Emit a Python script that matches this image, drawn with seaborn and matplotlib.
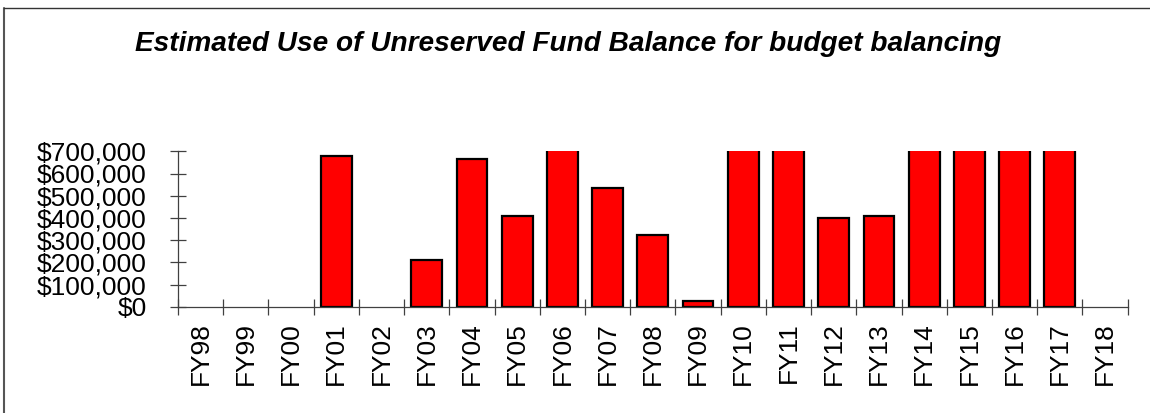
import matplotlib
matplotlib.use("Agg")
import matplotlib.pyplot as plt
import matplotlib.ticker as mticker
from matplotlib.lines import Line2D
import numpy as np
import pandas as pd
import seaborn as sns

# Fiscal years and estimated use of unreserved fund balance (dollars)
years = ["FY98", "FY99", "FY00", "FY01", "FY02", "FY03", "FY04", "FY05", "FY06",
         "FY07", "FY08", "FY09", "FY10", "FY11", "FY12", "FY13", "FY14", "FY15",
         "FY16", "FY17", "FY18"]
amounts = [0, 0, 0, 678000, 0, 211000, 664000, 408000, 760000,
           533000, 322000, 27000, 850000, 900000, 401000, 410000, 950000, 1000000,
           880000, 820000, 0]
y_ticks = [0, 100000, 200000, 300000, 400000, 500000, 600000, 700000]
title = "Estimated Use of Unreserved Fund Balance for budget balancing"

df = pd.DataFrame({"year": years, "amount": amounts})

sns.set_theme(style="white")
plt.rcParams["font.family"] = ["Liberation Sans", "DejaVu Sans"]

W, H = 1150, 413
fig = plt.figure(figsize=(W / 100, H / 100), dpi=100)
ax = fig.add_axes([178 / W, 1 - 306.7 / H, (1127.7 - 178) / W, (306.7 - 151.3) / H])

sns.barplot(data=df, x="year", y="amount", order=years, color="#FF0000",
            saturation=1, width=0.68, edgecolor="black", linewidth=1.6, ax=ax)

# hide empty years so no outline is drawn on the baseline
for p in ax.patches:
    if p.get_height() == 0:
        p.set_visible(False)

ax.set_ylim(0, 700000)
ax.set_xlim(-0.5, len(years) - 0.5)
ax.set_xlabel("")
ax.set_ylabel("")

ax.set_yticks(y_ticks)
ax.yaxis.set_major_formatter(mticker.FuncFormatter(lambda v, _: f"${v:,.0f}"))

# labels centred on bars, tick marks on category boundaries
ax.set_xticks(range(len(years)))
ax.set_xticklabels(years, rotation=90)
ax.set_xticks(np.arange(-0.5, len(years)), minor=True)
ax.tick_params(axis="x", which="major", length=0, pad=11, labelsize=19, colors="black")
ax.tick_params(axis="x", which="minor", direction="inout", length=11,
               width=0.9, color="#404040", bottom=True)
ax.tick_params(axis="y", which="major", direction="inout", length=11, width=0.9,
               color="#404040", pad=17, labelsize=19, labelcolor="black", left=True)

for side in ["top", "right"]:
    ax.spines[side].set_visible(False)
for side in ["left", "bottom"]:
    ax.spines[side].set_color("#404040")
    ax.spines[side].set_linewidth(0.9)

fig.text(568 / W, 1 - 44 / H, title, ha="center", va="center",
         fontsize=20.2, fontweight="bold", fontstyle="italic", color="black")

# frame around the chart
fig.add_artist(Line2D([4 / W, 4 / W], [0, 1 - 8 / H], transform=fig.transFigure,
                      color="#555555", linewidth=1.5))
fig.add_artist(Line2D([4 / W, 1], [1 - 8 / H, 1 - 8 / H], transform=fig.transFigure,
                      color="#333333", linewidth=1.0))

fig.savefig("out.png", dpi=100, facecolor="white")
